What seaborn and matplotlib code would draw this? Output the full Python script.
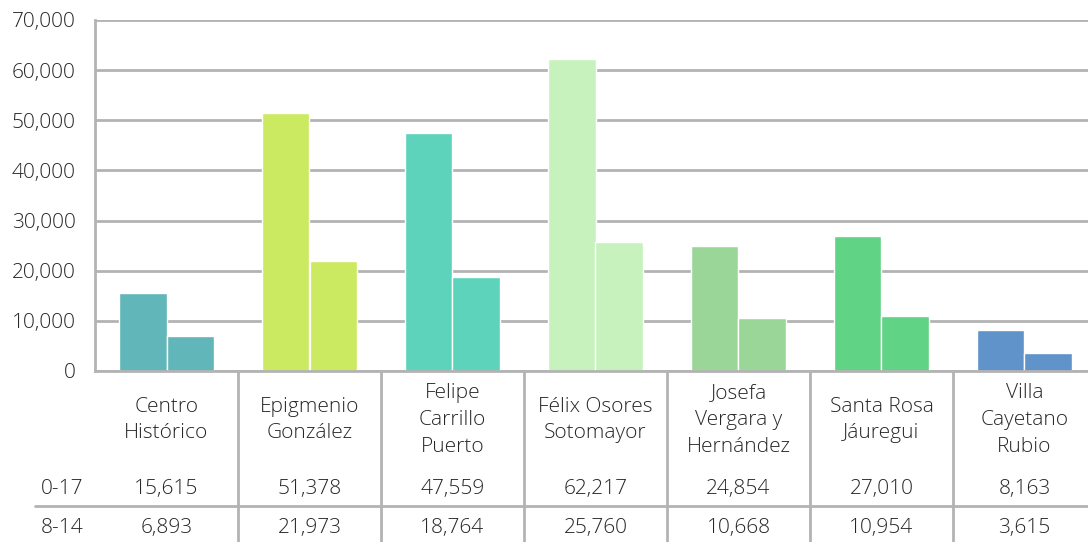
import numpy as np
import pandas as pd
import matplotlib
matplotlib.use("Agg")
import matplotlib.pyplot as plt
import seaborn as sns

zonas = ["Centro\nHistórico", "Epigmenio\nGonzález", "Felipe\nCarrillo\nPuerto",
         "Félix Osores\nSotomayor", "Josefa\nVergara y\nHernández",
         "Santa Rosa\nJáuregui", "Villa\nCayetano\nRubio"]
grupos = ["0-17", "8-14"]
edad_0_17 = [15615, 51378, 47559, 62217, 24854, 27010, 8163]
edad_8_14 = [6893, 21973, 18764, 25760, 10668, 10954, 3615]
colores = ["#60b6b8", "#cbe961", "#5cd3ba", "#c7f2bd", "#9ad697", "#61d384", "#5f93ca"]


def main():
    sns.set_theme(style="white")
    plt.rcParams["font.family"] = ["Open Sans", "DejaVu Sans"]
    txt = "#262626"
    grid = "#b3b3b3"
    fs = 15
    fw = "light"

    df = pd.DataFrame({
        "zona": zonas * 2,
        "grupo": [grupos[0]] * len(zonas) + [grupos[1]] * len(zonas),
        "valor": edad_0_17 + edad_8_14,
    })

    fig = plt.figure(figsize=(10.88, 5.42), dpi=100)
    W, H = 1088, 542
    left, right, top, bottom = 95, 1088, 20, 371
    ax = fig.add_axes([left / W, 1 - bottom / H, (right - left) / W, (bottom - top) / H])

    sns.barplot(data=df, x="zona", y="valor", hue="grupo", order=zonas, hue_order=grupos,
                width=0.66, dodge=True, ax=ax, legend=False, edgecolor="white", linewidth=1.0,
                saturation=1)
    # colour each bar by its zone
    n = len(zonas)
    for i, p in enumerate(ax.patches[:2 * n]):
        p.set_facecolor(colores[i % n])

    span = (right - left) / 143.0
    ax.set_xlim(-0.5, -0.5 + span)
    ax.set_ylim(0, 70000)
    ax.set_yticks(np.arange(0, 70001, 10000))
    ax.set_yticklabels([f"{v:,}" for v in range(0, 70001, 10000)], fontsize=fs,
                       color=txt, fontweight=fw)
    ax.tick_params(axis="y", length=0, pad=14)
    ax.set_xticks([])
    ax.set_xlabel("")
    ax.set_ylabel("")
    ax.yaxis.grid(True, color=grid, linewidth=2)
    ax.set_axisbelow(True)
    for s in ["top", "right"]:
        ax.spines[s].set_visible(False)
    for s in ["left", "bottom"]:
        ax.spines[s].set_color(grid)
        ax.spines[s].set_linewidth(2)

    # data table under the chart
    def fx(px):
        return px / W

    def fy(py):
        return 1 - py / H

    for i, z in enumerate(zonas):
        cx = fx(left + (i + 0.5) * 143)
        fig.text(cx, fy(420), z, ha="center", va="center", fontsize=fs, color=txt,
                 linespacing=1.45, fontweight=fw)
        fig.text(cx, fy(489), f"{edad_0_17[i]:,}", ha="center", va="center", fontsize=fs,
                 color=txt, fontweight=fw)
        fig.text(cx, fy(528), f"{edad_8_14[i]:,}", ha="center", va="center", fontsize=fs,
                 color=txt, fontweight=fw)
        if i > 0:
            xs = fx(left + i * 143)
            fig.add_artist(plt.Line2D([xs, xs], [fy(bottom), 0], color=grid, linewidth=2))
    fig.text(fx(41), fy(489), grupos[0], ha="left", va="center", fontsize=fs, color=txt, fontweight=fw)
    fig.text(fx(41), fy(528), grupos[1], ha="left", va="center", fontsize=fs, color=txt, fontweight=fw)
    fig.add_artist(plt.Line2D([fx(35), 1], [fy(506), fy(506)], color=grid, linewidth=2))

    fig.savefig("out.png", dpi=100)


if __name__ == "__main__":
    main()
